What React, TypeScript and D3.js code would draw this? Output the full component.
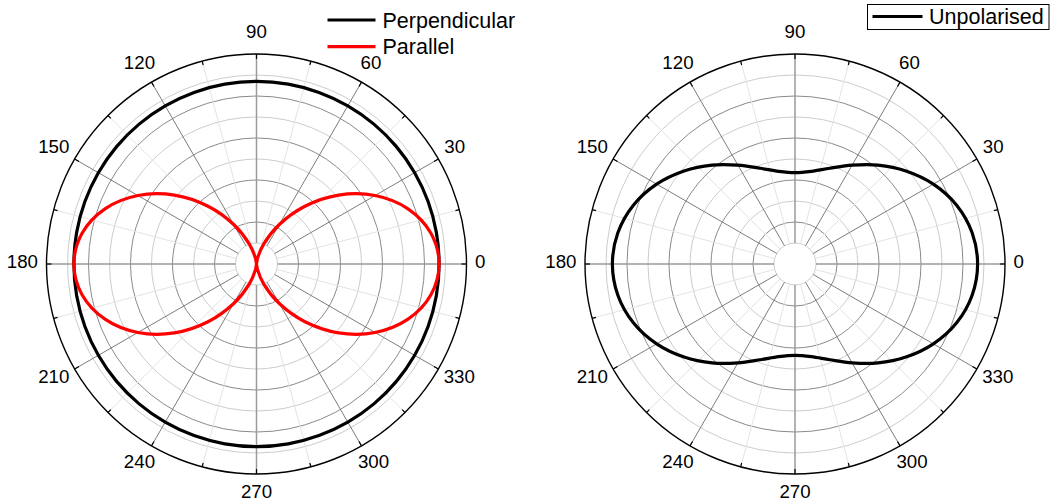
import React from 'react';
import * as d3 from 'd3';

// ---- data ----
const angles = [0, 10, 20, 30, 40, 50, 60, 70, 80, 90, 100, 110, 120, 130, 140, 150, 160, 170,
  180, 190, 200, 210, 220, 230, 240, 250, 260, 270, 280, 290, 300, 310, 320, 330, 340, 350];

const perpendicular = [1.0, 1.0, 1.0, 1.0, 1.0, 1.0, 1.0, 1.0, 1.0, 1.0, 1.0, 1.0, 1.0, 1.0, 1.0, 1.0, 1.0, 1.0,
  1.0, 1.0, 1.0, 1.0, 1.0, 1.0, 1.0, 1.0, 1.0, 1.0, 1.0, 1.0, 1.0, 1.0, 1.0, 1.0, 1.0, 1.0];

const parallel = [1.0, 0.97, 0.883, 0.75, 0.587, 0.413, 0.25, 0.117, 0.03, 0.0, 0.03, 0.117, 0.25, 0.413, 0.587, 0.75, 0.883, 0.97,
  1.0, 0.97, 0.883, 0.75, 0.587, 0.413, 0.25, 0.117, 0.03, 0.0, 0.03, 0.117, 0.25, 0.413, 0.587, 0.75, 0.883, 0.97];

const unpolarised = [1.0, 0.985, 0.942, 0.875, 0.793, 0.707, 0.625, 0.558, 0.515, 0.5, 0.515, 0.558, 0.625, 0.707, 0.793, 0.875, 0.942, 0.985,
  1.0, 0.985, 0.942, 0.875, 0.793, 0.707, 0.625, 0.558, 0.515, 0.5, 0.515, 0.558, 0.625, 0.707, 0.793, 0.875, 0.942, 0.985];

const angleLabels = [0, 30, 60, 90, 120, 150, 180, 210, 240, 270, 300, 330];
const angleTicks = [0, 15, 30, 45, 60, 75, 90, 105, 120, 135, 150, 165, 180, 195, 210, 225, 240, 255, 270, 285, 300, 315, 330, 345];
const radialMax = 1.15;
const radialRings = [0.115, 0.23, 0.345, 0.46, 0.575, 0.69, 0.805, 0.92, 1.035];

const W = 1051;
const H = 504;
const R = 210;
const FONT = "'Liberation Sans', Arial, Helvetica, sans-serif";
const tickFs = 18.7;
const legendFs = 21.5;

type Series = { name: string; values: number[]; color: string };

function PolarPanel({ cx, cy, series }: { cx: number; cy: number; series: Series[] }) {
  const r = d3.scaleLinear().domain([0, radialMax]).range([0, R]);
  const rad = (deg: number) => (deg * Math.PI) / 180;
  const line = d3
    .lineRadial<number>()
    .angle((_, i) => Math.PI / 2 - rad(angles[i]))
    .radius((v) => r(v))
    .curve(d3.curveCatmullRomClosed.alpha(0.5));
  const inner = r(radialRings[0]);

  const capH = tickFs * 0.716;
  const eTop = 2.5;
  const eBot = 7.8;
  const boxH = capH + eTop + eBot;
  const anchorR = R + 8.5;

  return (
    <g transform={`translate(${cx},${cy})`}>
      {radialRings.map((v, k) => (
        <circle
          key={'ring' + k}
          r={r(v)}
          fill="none"
          stroke={k % 2 === 1 ? '#8a8a8a' : '#cdcdcd'}
          strokeWidth={1}
        />
      ))}
      {angleTicks.map((deg) => {
        const major = deg % 30 === 0;
        const axis = deg % 90 === 0;
        const c = Math.cos(rad(deg));
        const s = -Math.sin(rad(deg));
        return (
          <line
            key={'spoke' + deg}
            x1={inner * c}
            y1={inner * s}
            x2={R * c}
            y2={R * s}
            stroke={axis ? '#9a9a9a' : major ? '#7c7c7c' : '#e3e3e3'}
            strokeWidth={axis ? 1.5 : 1}
          />
        );
      })}
      <circle r={R} fill="none" stroke="#000" strokeWidth={1.4} />
      {angleTicks.map((deg) => {
        const major = deg % 30 === 0;
        const c = Math.cos(rad(deg));
        const s = -Math.sin(rad(deg));
        const len = major ? 5 : 4;
        return (
          <line
            key={'tick' + deg}
            x1={R * c}
            y1={R * s}
            x2={(R - len) * c}
            y2={(R - len) * s}
            stroke="#000"
            strokeWidth={1.2}
          />
        );
      })}
      {series.map((sr) => (
        <path
          key={sr.name}
          d={line(sr.values) || ''}
          fill="none"
          stroke={sr.color}
          strokeWidth={3.2}
        />
      ))}
      {angleLabels.map((deg) => {
        const c = Math.cos(rad(deg));
        const sn = Math.sin(rad(deg));
        const txt = String(deg);
        const w = txt.length * 0.556 * tickFs;
        const ax = anchorR * c;
        const ay = -anchorR * sn;
        const fx = (1 - c) / 2;
        const fy = (1 + sn) / 2;
        const left = ax - fx * w;
        const top = ay - fy * boxH;
        const baseline = top + eTop + capH;
        return (
          <text
            key={'lab' + deg}
            x={left}
            y={baseline}
            fontSize={tickFs}
            fontFamily={FONT}
            fill="#000"
          >
            {txt}
          </text>
        );
      })}
    </g>
  );
}

export default function App() {
  const left: Series[] = [
    { name: 'Perpendicular', values: perpendicular, color: '#000000' },
    { name: 'Parallel', values: parallel, color: '#ff0000' },
  ];
  const right: Series[] = [{ name: 'Unpolarised', values: unpolarised, color: '#000000' }];
  return (
    <svg
      width={W}
      height={H}
      style={{ position: 'absolute', left: 0, top: 0, background: '#fff' }}
    >
      <rect width={W} height={H} fill="#fff" />
      <PolarPanel cx={256.5} cy={264} series={left} />
      <PolarPanel cx={795} cy={264} series={right} />
      {/* left legend */}
      {left.map((s, i) => (
        <g key={'lg' + s.name} transform={`translate(327.5,${20 + i * 26.7})`}>
          <line x1={0} x2={48} y1={0} y2={0} stroke={s.color} strokeWidth={3.2} />
          <text x={55} y={7.6} fontSize={legendFs} fontFamily={FONT} fill="#000">
            {s.name}
          </text>
        </g>
      ))}
      {/* right legend */}
      <rect x={867.5} y={4.5} width={181.5} height={25} fill="#fff" stroke="#000" strokeWidth={1} />
      {right.map((s) => (
        <g key={'rg' + s.name} transform="translate(872.5,16.5)">
          <line x1={0} x2={50} y1={0} y2={0} stroke={s.color} strokeWidth={3.2} />
          <text x={56.5} y={7.6} fontSize={legendFs} fontFamily={FONT} fill="#000">
            {s.name}
          </text>
        </g>
      ))}
    </svg>
  );
}
